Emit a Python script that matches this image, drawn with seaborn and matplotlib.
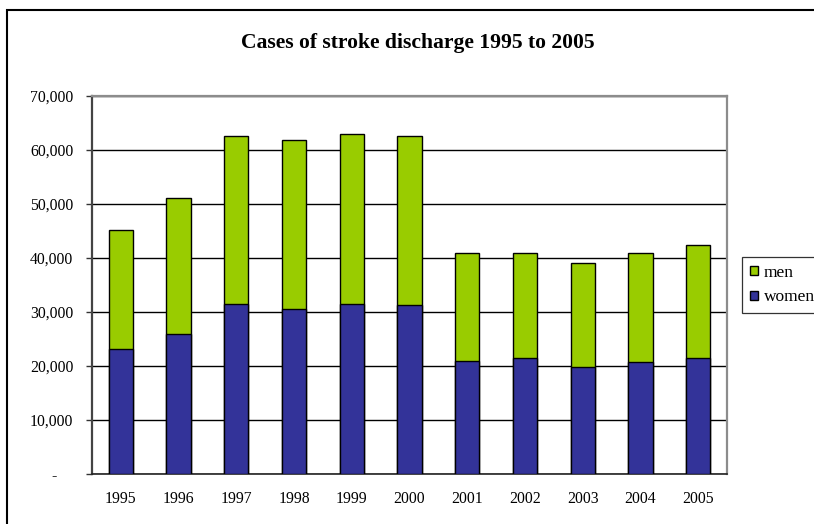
import matplotlib
matplotlib.use("Agg")
import matplotlib.pyplot as plt
from matplotlib.patches import Rectangle, Patch
from matplotlib.ticker import FixedLocator
import numpy as np
import pandas as pd
import seaborn as sns

# Stroke discharges by year, split by sex
years = ["1995", "1996", "1997", "1998", "1999", "2000",
         "2001", "2002", "2003", "2004", "2005"]
women = [23100, 25900, 31500, 30600, 31500, 31300,
         20900, 21400, 19900, 20700, 21400]
men = [22100, 25300, 31100, 31300, 31400, 31300,
       20100, 19600, 19100, 20300, 21100]
y_ticks = [0, 10000, 20000, 30000, 40000, 50000, 60000, 70000]
# accounting-style labels: zero shown as a padded dash
y_tick_labels = ["-    ", "10,000", "20,000", "30,000", "40,000",
                 "50,000", "60,000", "70,000"]

GREEN = "#99CC00"
BLUE = "#333399"

sns.set_theme(style="white")
plt.rcParams["font.family"] = ["Liberation Serif", "DejaVu Serif"]
plt.rcParams["text.color"] = "black"

df = pd.DataFrame({"year": years, "women": women, "men": men})
df["total"] = df["women"] + df["men"]

W, H = 814, 524
fig = plt.figure(figsize=(W / 100, H / 100), dpi=100)
fig.patch.set_facecolor("white")
ax = fig.add_axes([92 / W, (H - 474) / H, (727 - 92) / W, (474 - 96) / H])

# Stacked bars: full total in green, women portion drawn over it in blue
sns.barplot(data=df, x="year", y="total", color=GREEN, width=0.42,
            edgecolor="black", linewidth=1.0, saturation=1, ax=ax, zorder=3)
sns.barplot(data=df, x="year", y="women", color=BLUE, width=0.42,
            edgecolor="black", linewidth=1.0, saturation=1, ax=ax, zorder=4)

ax.set_xlim(-0.5, len(years) - 0.5)
ax.set_ylim(0, 70000)
ax.set_yticks(y_ticks)
ax.set_yticklabels(y_tick_labels, fontsize=11.3, color="black")
ax.set_xlabel("")
ax.set_ylabel("")
ax.tick_params(axis="x", which="major", length=0, pad=12, labelsize=11.3,
               labelcolor="black")
ax.xaxis.set_minor_locator(FixedLocator(np.arange(-0.5, len(years), 1.0)))
ax.tick_params(axis="x", which="minor", length=4, width=1, color="#333333",
               direction="out")
ax.tick_params(axis="y", length=4, width=1, color="#333333", direction="out",
               left=True, pad=9.5)

ax.yaxis.grid(True, color="black", linewidth=1.0, zorder=0)
ax.set_axisbelow(True)

for side in ["top", "right"]:
    ax.spines[side].set_color("#8c8c8c")
    ax.spines[side].set_linewidth(1.6)
ax.spines["left"].set_color("#444444")
ax.spines["left"].set_linewidth(1.6)
ax.spines["bottom"].set_color("#222222")
ax.spines["bottom"].set_linewidth(1.2)

fig.text(418 / W, 1 - 43 / H, "Cases of stroke discharge 1995 to 2005",
         ha="center", va="center", fontsize=15.6, fontweight="bold",
         color="black")

handles = [Patch(facecolor=GREEN, edgecolor="black", linewidth=1.0, label="men"),
           Patch(facecolor=BLUE, edgecolor="black", linewidth=1.0, label="women")]
leg = fig.legend(handles=handles, loc="upper left",
                 bbox_to_anchor=(742 / W, 1 - 257 / H), frameon=True,
                 fancybox=False, fontsize=12.5, handlelength=0.46,
                 handleheight=0.46, handletextpad=0.35, borderpad=0.45,
                 labelspacing=0.5, borderaxespad=0, labelcolor="black")
leg.get_frame().set_edgecolor("black")
leg.get_frame().set_linewidth(0.9)

# Outer frame around the chart area
fig.patches.append(Rectangle((7 / W, -0.05), 1.2, 1 - 10 / H + 0.05,
                             transform=fig.transFigure, fill=False,
                             edgecolor="black", linewidth=1.5))

fig.savefig("out.png", dpi=100)
